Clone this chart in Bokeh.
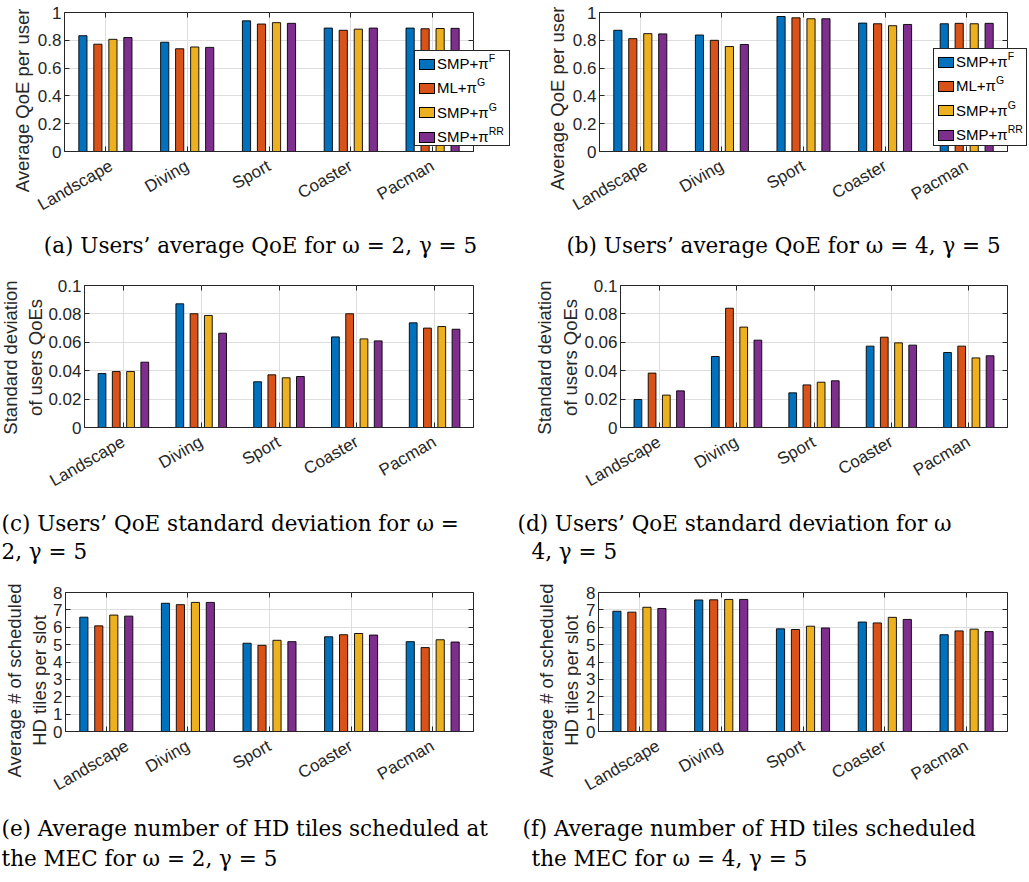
import math
from bokeh.plotting import figure
from bokeh.layouts import column, row
from bokeh.models import (FactorRange, Range1d, FixedTicker, LinearAxis, CategoricalAxis,
                          CustomJSTickFormatter, ColumnDataSource, Div)
from bokeh.transform import dodge
from bokeh.core.properties import value
from bokeh.embed import file_html
from bokeh.resources import INLINE

# ---------------- data ----------------
videos = ["Landscape", "Diving", "Sport", "Coaster", "Pacman"]
series_names = ["SMP+π", "ML+π", "SMP+π", "SMP+π"]
series_sups = ["F", "G", "G", "RR"]
colors = ["#0072BD", "#D95319", "#EDB120", "#7E2F8E"]

# (a) average QoE, omega=2
a_smp_f = [0.833, 0.786, 0.940, 0.888, 0.888]
a_ml_g = [0.772, 0.739, 0.917, 0.872, 0.883]
a_smp_g = [0.807, 0.752, 0.927, 0.880, 0.885]
a_smp_rr = [0.820, 0.749, 0.922, 0.888, 0.886]
# (b) average QoE, omega=4
b_smp_f = [0.872, 0.838, 0.971, 0.924, 0.919]
b_ml_g = [0.812, 0.800, 0.962, 0.919, 0.922]
b_smp_g = [0.848, 0.755, 0.955, 0.905, 0.919]
b_smp_rr = [0.846, 0.770, 0.955, 0.914, 0.922]
# (c) std of QoE, omega=2
c_smp_f = [0.0380, 0.0871, 0.0322, 0.0638, 0.0737]
c_ml_g = [0.0394, 0.0801, 0.0371, 0.0801, 0.0700]
c_smp_g = [0.0394, 0.0789, 0.0350, 0.0624, 0.0711]
c_smp_rr = [0.0460, 0.0664, 0.0359, 0.0610, 0.0692]
# (d) std of QoE, omega=4
d_smp_f = [0.0197, 0.0500, 0.0244, 0.0573, 0.0528]
d_ml_g = [0.0383, 0.0840, 0.0300, 0.0636, 0.0573]
d_smp_g = [0.0228, 0.0707, 0.0319, 0.0596, 0.0490]
d_smp_rr = [0.0258, 0.0615, 0.0329, 0.0580, 0.0505]
# (e) HD tiles per slot, omega=2
e_smp_f = [6.58, 7.38, 5.08, 5.45, 5.17]
e_ml_g = [6.08, 7.30, 4.96, 5.57, 4.83]
e_smp_g = [6.70, 7.43, 5.25, 5.64, 5.28]
e_smp_rr = [6.64, 7.43, 5.17, 5.55, 5.15]
# (f) HD tiles per slot, omega=4
f_smp_f = [6.92, 7.57, 5.91, 6.30, 5.57]
f_ml_g = [6.87, 7.58, 5.87, 6.25, 5.79]
f_smp_g = [7.15, 7.60, 6.06, 6.57, 5.89]
f_smp_rr = [7.08, 7.60, 5.96, 6.45, 5.75]

qoe_ticks = [0, 0.2, 0.4, 0.6, 0.8, 1]
std_ticks = [0, 0.02, 0.04, 0.06, 0.08, 0.1]
tile_ticks = [0, 1, 2, 3, 4, 5, 6, 7, 8]

ylabel_qoe = ["Average QoE per user"]
ylabel_std = ["Standard deviation", "of users QoEs"]
ylabel_tiles = ["Average # of scheduled", "HD tiles per slot"]

captions_1 = ["(a) Users’ average QoE for ω = 2, γ = 5", "(b) Users’ average QoE for ω = 4, γ = 5"]
captions_2 = ["(c) Users’ QoE standard deviation for ω =", "2, γ = 5",
              "(d) Users’ QoE standard deviation for ω", "4, γ = 5"]
captions_3 = ["(e) Average number of HD tiles scheduled at", "the MEC for ω = 2, γ = 5",
              "(f) Average number of HD tiles scheduled", "the MEC for ω = 4, γ = 5"]

# ---------------- style ----------------
SANS = "Liberation Sans"
SERIF = "DejaVu Serif"
DARK = "#262626"
GRID = "#dedede"
offsets = [-0.275, -0.092, 0.092, 0.275]
BAR_W = 0.1


def blank(width, height):
    f = figure(width=width, height=height, x_range=Range1d(0, width), y_range=Range1d(height, 0),
               x_axis_type=None, y_axis_type=None, output_backend="svg", toolbar_location=None,
               min_border=0, min_border_left=0, min_border_right=0, min_border_top=0,
               min_border_bottom=0, frame_align=False)
    f.outline_line_color = None
    f.grid.visible = False
    return f


def ylab(width, height, texts, xs, ys):
    f = blank(width, height)
    f.text(x=xs, y=ys, text=texts, angle=math.pi / 2, text_font=value(SANS),
           text_font_size="18.5px", text_color=DARK, text_align="center", text_baseline="middle")
    return f


def panel(vals, yticks, width, height, left, right, top, bottom):
    src = ColumnDataSource(dict(video=videos, s0=vals[0], s1=vals[1], s2=vals[2], s3=vals[3]))
    p = figure(width=width, height=height, x_range=FactorRange(factors=videos),
               y_range=Range1d(yticks[0], yticks[-1]), output_backend="svg",
               toolbar_location=None, min_border_left=left, min_border_right=right,
               min_border_top=top, min_border_bottom=bottom, frame_align=False)
    p.outline_line_color = DARK
    p.outline_line_width = 1
    for i in range(4):
        p.vbar(x=dodge("video", offsets[i], range=p.x_range), top="s%d" % i, width=BAR_W,
               source=src, fill_color=colors[i], line_color="black", line_width=0.9)
    p.xgrid.grid_line_color = GRID
    p.ygrid.grid_line_color = GRID
    p.ygrid.ticker = FixedTicker(ticks=yticks)

    xa = p.xaxis[0]
    xa.major_label_orientation = math.pi / 6
    xa.major_label_text_font = SANS
    xa.major_label_text_font_size = "17px"
    xa.major_label_text_color = DARK
    xa.axis_line_color = DARK
    xa.major_tick_line_color = DARK
    xa.major_tick_in = 5
    xa.major_tick_out = 0
    xa.major_label_standoff = 13

    ya = p.yaxis[0]
    ya.ticker = FixedTicker(ticks=yticks)
    ya.formatter = CustomJSTickFormatter(code="return String(+tick.toFixed(4));")
    ya.major_label_text_font = SANS
    ya.major_label_text_font_size = "17px"
    ya.major_label_text_color = DARK
    ya.axis_line_color = DARK
    ya.major_tick_line_color = DARK
    ya.major_tick_in = 5
    ya.major_tick_out = 0
    ya.minor_tick_line_color = None
    ya.major_label_standoff = 3

    top_ax = CategoricalAxis(major_label_text_color=None, major_label_text_font_size="1px",
                             major_label_standoff=0, major_tick_in=5, major_tick_out=0,
                             major_tick_line_color=DARK, axis_line_color=None)
    p.add_layout(top_ax, "above")
    right_ax = LinearAxis(ticker=FixedTicker(ticks=yticks), major_label_text_color=None,
                          major_label_text_font_size="1px", major_label_standoff=0,
                          major_tick_in=5, major_tick_out=0, minor_tick_line_color=None,
                          major_tick_line_color=DARK, axis_line_color=None)
    p.add_layout(right_ax, "right")
    return p


def legend_div(left, top, w, h):
    rows = []
    for i in range(4):
        cy = 13 + i * 24.4
        rows.append(
            '<div style="position:absolute;left:4px;top:%.1fpx;height:24px;display:flex;'
            'align-items:center;white-space:nowrap;">'
            '<span style="display:inline-block;width:16px;height:11px;box-sizing:border-box;'
            'background:%s;border:1px solid #000;"></span>'
            '<span style="margin-left:2px;line-height:24px;">%s<sup style="font-size:10.5px;'
            'line-height:0;vertical-align:7px;">%s</sup></span></div>'
            % (cy - 12, colors[i], series_names[i], series_sups[i]))
    html = ('<div style="position:relative;width:%dpx;height:%dpx;background:#ffffff;'
            'border:1px solid %s;box-sizing:border-box;font-family:\'Liberation Sans\',Arial,sans-serif;'
            'font-size:15px;color:#000;">%s</div>' % (w, h, DARK, "".join(rows)))
    return Div(text=html, width=w, height=h,
               styles={"position": "absolute", "left": "%dpx" % left, "top": "%dpx" % top,
                       "z-index": "10"})


def caption(h, xs, ys, texts, align="left"):
    c = blank(1029, h)
    c.text(x=xs, y=ys, text=texts, text_font=value(SERIF), text_font_size="21.5px",
           text_color="black", text_baseline="middle", text_align=align)
    return c


# row 1
la = ylab(34, 225, ylabel_qoe, [22], [100])
pa = panel([a_smp_f, a_ml_g, a_smp_g, a_smp_rr], qoe_ticks, 481, 225, 29, 42, 12, 72)
lb = ylab(54, 225, ylabel_qoe, [41.5], [98])
pb = panel([b_smp_f, b_ml_g, b_smp_g, b_smp_rr], qoe_ticks, 460, 225, 29, 22, 12, 72)
# row 2
lc = ylab(45, 235, ylabel_std, [10, 35], [89, 89])
pc = panel([c_smp_f, c_ml_g, c_smp_g, c_smp_rr], std_ticks, 470, 235, 38, 42, 17, 76)
ld = ylab(66, 235, ylabel_std, [29, 55], [89, 89])
pd_ = panel([d_smp_f, d_ml_g, d_smp_g, d_smp_rr], std_ticks, 448, 235, 37, 22, 17, 76)
# row 3
le = ylab(50, 230, ylabel_tiles, [14, 39], [105, 105])
pe = panel([e_smp_f, e_ml_g, e_smp_g, e_smp_rr], tile_ticks, 465, 230, 13, 42, 17, 71)
lf = ylab(66, 230, ylabel_tiles, [31, 56], [105, 105])
pf = panel([f_smp_f, f_ml_g, f_smp_g, f_smp_rr], tile_ticks, 448, 230, 17, 22, 17, 71)

cap1 = caption(43, [260, 783], [20, 20], captions_1, align="center")
cap2 = caption(72, [1, 1, 517, 531], [20, 48, 20, 48], captions_2)
cap3 = caption(77, [1, 1, 522, 531], [23, 53, 23, 53], captions_3)

leg_a = legend_div(409, 45, 96, 96)
leg_b = legend_div(928, 43, 94, 98)

layout = column(row(la, pa, lb, pb), cap1, row(lc, pc, ld, pd_), cap2, row(le, pe, lf, pf), cap3,
                leg_a, leg_b)
layout.spacing = 0

with open("out.html", "w") as fh:
    fh.write(file_html(layout, INLINE))
